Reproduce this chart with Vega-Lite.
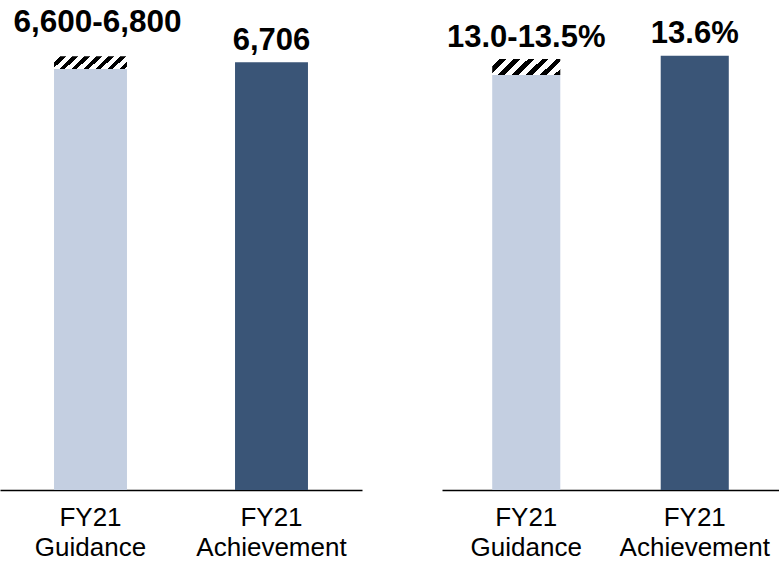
{
  "$schema": "https://vega.github.io/schema/vega-lite/v6.json",
  "padding": 0,
  "spacing": 80,
  "bounds": "flush",
  "config": {
    "view": {"stroke": null},
    "font": "Liberation Sans",
    "axisX": {
      "domainColor": "#000000",
      "domainWidth": 1.5,
      "ticks": false,
      "tickSize": 0,
      "grid": false,
      "labelPadding": 14,
      "labelFontSize": 26,
      "labelColor": "#000000",
      "labelFont": "Liberation Sans",
      "labelAngle": 0,
      "labelBaseline": "top",
      "labelLineHeight": 30,
      "title": null
    }
  },
  "hconcat": [
    {
      "width": 362,
      "height": 490,
      "data": {
        "values": [
          {"cat": "FY21 Guidance", "type": "Guidance", "base": 6600, "lo": 6600, "hi": 6800, "label": "6,600-6,800"},
          {"cat": "FY21 Achievement", "type": "Achievement", "base": 6706, "label": "6,706"}
        ]
      },
      "encoding": {
        "x": {
          "field": "cat",
          "type": "nominal",
          "sort": ["FY21 Guidance", "FY21 Achievement"],
          "scale": {"paddingInner": 0, "paddingOuter": 0},
          "axis": {"labelExpr": "split(datum.label, ' ')"}
        }
      },
      "layer": [
        {
          "mark": {"type": "bar", "width": {"band": 0.403}},
          "encoding": {
            "y": {"field": "base", "type": "quantitative", "scale": {"domain": [0, 7680], "nice": false}, "axis": null},
            "color": {"field": "type", "type": "nominal", "scale": {"domain": ["Guidance", "Achievement"], "range": ["#c4cfe1", "#3a5577"]}, "legend": null}
          }
        },
        {
          "transform": [{"filter": "isValid(datum.hi)"}],
          "mark": {
            "type": "bar",
            "width": {"band": 0.403},
            "fill": {
              "gradient": "linear",
              "x1": 0, "y1": 0, "x2": 1.195, "y2": 0.2128,
              "stops": [
                {"offset": 0, "color": "#ffffff"},
                {"offset": 0.0733, "color": "#ffffff"},
                {"offset": 0.0733, "color": "#000000"},
                {"offset": 0.1333, "color": "#000000"},
                {"offset": 0.1333, "color": "#ffffff"},
                {"offset": 0.2067, "color": "#ffffff"},
                {"offset": 0.2067, "color": "#000000"},
                {"offset": 0.2667, "color": "#000000"},
                {"offset": 0.2667, "color": "#ffffff"},
                {"offset": 0.34, "color": "#ffffff"},
                {"offset": 0.34, "color": "#000000"},
                {"offset": 0.4, "color": "#000000"},
                {"offset": 0.4, "color": "#ffffff"},
                {"offset": 0.4733, "color": "#ffffff"},
                {"offset": 0.4733, "color": "#000000"},
                {"offset": 0.5333, "color": "#000000"},
                {"offset": 0.5333, "color": "#ffffff"},
                {"offset": 0.6067, "color": "#ffffff"},
                {"offset": 0.6067, "color": "#000000"},
                {"offset": 0.6667, "color": "#000000"},
                {"offset": 0.6667, "color": "#ffffff"},
                {"offset": 0.74, "color": "#ffffff"},
                {"offset": 0.74, "color": "#000000"},
                {"offset": 0.8, "color": "#000000"},
                {"offset": 0.8, "color": "#ffffff"},
                {"offset": 0.8733, "color": "#ffffff"},
                {"offset": 0.8733, "color": "#000000"},
                {"offset": 0.9333, "color": "#000000"},
                {"offset": 0.9333, "color": "#ffffff"},
                {"offset": 1, "color": "#ffffff"}
              ]
            }
          },
          "encoding": {
            "y": {"field": "lo", "type": "quantitative", "axis": null},
            "y2": {"field": "hi"}
          }
        },
        {
          "transform": [{"filter": "datum.type === 'Guidance'"}],
          "mark": {"type": "text", "fontSize": 31.5, "fontWeight": "bold", "font": "Liberation Sans", "color": "#000000", "baseline": "alphabetic", "dy": -24, "dx": 7},
          "encoding": {
            "y": {"field": "hi", "type": "quantitative", "axis": null},
            "text": {"field": "label"}
          }
        },
        {
          "transform": [{"filter": "datum.type === 'Achievement'"}],
          "mark": {"type": "text", "fontSize": 31, "fontWeight": "bold", "font": "Liberation Sans", "color": "#000000", "baseline": "alphabetic", "dy": -12},
          "encoding": {
            "y": {"field": "base", "type": "quantitative", "axis": null},
            "text": {"field": "label"}
          }
        }
      ]
    },
    {
      "width": 337,
      "height": 490,
      "data": {
        "values": [
          {"cat": "FY21 Guidance", "type": "Guidance", "base": 13.0, "lo": 13.0, "hi": 13.5, "label": "13.0-13.5%"},
          {"cat": "FY21 Achievement", "type": "Achievement", "base": 13.6, "label": "13.6%"}
        ]
      },
      "encoding": {
        "x": {
          "field": "cat",
          "type": "nominal",
          "sort": ["FY21 Guidance", "FY21 Achievement"],
          "scale": {"paddingInner": 0, "paddingOuter": 0},
          "axis": {"labelExpr": "split(datum.label, ' ')"}
        }
      },
      "layer": [
        {
          "mark": {"type": "bar", "width": {"band": 0.404}},
          "encoding": {
            "y": {"field": "base", "type": "quantitative", "scale": {"domain": [0, 15.35], "nice": false}, "axis": null},
            "color": {"field": "type", "type": "nominal", "scale": {"domain": ["Guidance", "Achievement"], "range": ["#c4cfe1", "#3a5577"]}, "legend": null}
          }
        },
        {
          "transform": [{"filter": "isValid(datum.hi)"}],
          "mark": {
            "type": "bar",
            "width": {"band": 0.404},
            "fill": {
              "gradient": "linear",
              "x1": 0, "y1": 0, "x2": 1.254, "y2": 0.295,
              "stops": [
                {"offset": 0, "color": "#ffffff"},
                {"offset": 0.0856, "color": "#ffffff"},
                {"offset": 0.0856, "color": "#000000"},
                {"offset": 0.1556, "color": "#000000"},
                {"offset": 0.1556, "color": "#ffffff"},
                {"offset": 0.2412, "color": "#ffffff"},
                {"offset": 0.2412, "color": "#000000"},
                {"offset": 0.3111, "color": "#000000"},
                {"offset": 0.3111, "color": "#ffffff"},
                {"offset": 0.3967, "color": "#ffffff"},
                {"offset": 0.3967, "color": "#000000"},
                {"offset": 0.4667, "color": "#000000"},
                {"offset": 0.4667, "color": "#ffffff"},
                {"offset": 0.5522, "color": "#ffffff"},
                {"offset": 0.5522, "color": "#000000"},
                {"offset": 0.6222, "color": "#000000"},
                {"offset": 0.6222, "color": "#ffffff"},
                {"offset": 0.7078, "color": "#ffffff"},
                {"offset": 0.7078, "color": "#000000"},
                {"offset": 0.7778, "color": "#000000"},
                {"offset": 0.7778, "color": "#ffffff"},
                {"offset": 0.8633, "color": "#ffffff"},
                {"offset": 0.8633, "color": "#000000"},
                {"offset": 0.9333, "color": "#000000"},
                {"offset": 0.9333, "color": "#ffffff"},
                {"offset": 1, "color": "#ffffff"}
              ]
            }
          },
          "encoding": {
            "y": {"field": "lo", "type": "quantitative", "axis": null},
            "y2": {"field": "hi"}
          }
        },
        {
          "transform": [{"filter": "datum.type === 'Guidance'"}],
          "mark": {"type": "text", "fontSize": 31, "fontWeight": "bold", "font": "Liberation Sans", "color": "#000000", "baseline": "alphabetic", "dy": -12},
          "encoding": {
            "y": {"field": "hi", "type": "quantitative", "axis": null},
            "text": {"field": "label"}
          }
        },
        {
          "transform": [{"filter": "datum.type === 'Achievement'"}],
          "mark": {"type": "text", "fontSize": 31, "fontWeight": "bold", "font": "Liberation Sans", "color": "#000000", "baseline": "alphabetic", "dy": -13},
          "encoding": {
            "y": {"field": "base", "type": "quantitative", "axis": null},
            "text": {"field": "label"}
          }
        }
      ]
    }
  ]
}
